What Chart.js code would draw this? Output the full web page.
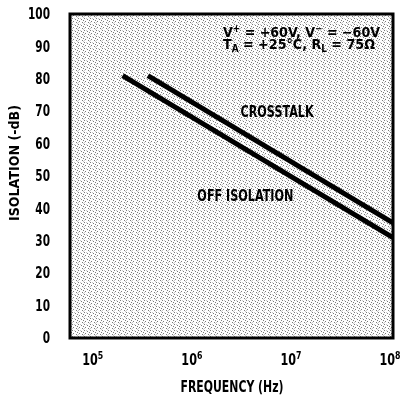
<!DOCTYPE html>
<html>
<head>
<meta charset="utf-8">
<script src="https://cdn.jsdelivr.net/npm/chart.js@4"></script>
<style>
  html, body { margin: 0; padding: 0; background: #fff; }
  #wrap { width: 403px; height: 400px; }
</style>
</head>
<body>
<div id="wrap"><canvas id="chart"></canvas></div>
<script>
// Isolation vs frequency data
const offFreq = [2.0e5, 1.07e8]
const offIso = [81, 31]
const xtalkFreq = [3.6e5, 1.07e8]
const xtalkIso = [81, 35.5]

// axis ticks
const xTickValues = [1e5, 1e6, 1e7, 1e8]
const xTickBase = ["10", "10", "10", "10"]
const xTickExp = ["5", "6", "7", "8"]
const yTicks = [0, 10, 20, 30, 40, 50, 60, 70, 80, 90, 100]

const FONT = "'DejaVu Sans', sans-serif"

// light halftone screen like the printed original
function makeScreen() {
  const c = document.createElement("canvas")
  c.width = 6
  c.height = 6
  const g = c.getContext("2d")
  g.fillStyle = "#fdfdfd"
  g.fillRect(0, 0, 6, 6)
  g.fillStyle = "#7a7a7a"
  ;[[0, 0], [3, 1], [1, 3], [4, 4], [5, 2]].forEach(([x, y]) => g.fillRect(x, y, 1, 1))
  g.fillStyle = "#c8c8c8"
  ;[[2, 0], [5, 5], [0, 4]].forEach(([x, y]) => g.fillRect(x, y, 1, 1))
  return c
}

function pieceSize(p, size) {
  return p.sub || p.sup ? size * 0.7 : size
}

// width of a rich text run
function richWidth(ctx, parts, size) {
  let w = 0
  parts.forEach((p) => {
    ctx.font = `bold ${pieceSize(p, size)}px ${FONT}`
    w += ctx.measureText(p.t).width
  })
  return w
}

// draw text made of normal / sub / sup pieces, squeezed to a condensed width
function drawRich(ctx, parts, x, y, size, align, target, sxFixed) {
  const w = richWidth(ctx, parts, size)
  const sx = sxFixed || (target ? target / w : 1)
  const start = align === "center" ? -w / 2 : align === "right" ? -w : 0
  ctx.save()
  ctx.translate(x, y)
  ctx.scale(sx, 1)
  ctx.textAlign = "left"
  ctx.textBaseline = "middle"
  ctx.fillStyle = "#000"
  let cx = start
  parts.forEach((p) => {
    ctx.font = `bold ${pieceSize(p, size)}px ${FONT}`
    const dy = p.sub ? size * 0.3 : p.sup ? -size * 0.28 : 0
    ctx.fillText(p.t, cx, dy)
    cx += ctx.measureText(p.t).width
  })
  ctx.restore()
}

const plotFrame = {
  id: "plotFrame",
  beforeDatasetsDraw(chart) {
    const { ctx, chartArea: a } = chart
    ctx.save()
    ctx.fillStyle = ctx.createPattern(makeScreen(), "repeat")
    ctx.fillRect(a.left, a.top, a.right - a.left, a.bottom - a.top)
    ctx.restore()
  },
  afterDraw(chart) {
    const { ctx, chartArea: a, scales } = chart
    ctx.save()
    ctx.strokeStyle = "#000"
    ctx.lineWidth = 3
    ctx.strokeRect(a.left, a.top, a.right - a.left, a.bottom - a.top)
    ctx.restore()

    // y tick labels, all squeezed like "100"
    const ySx = 22 / richWidth(ctx, [{ t: "100" }], 16)
    yTicks.forEach((v) => {
      drawRich(ctx, [{ t: String(v) }], 50, scales.y.getPixelForValue(v) + 1, 16, "right", 0, ySx)
    })

    // x tick labels with real superscripts
    xTickValues.forEach((v, i) => {
      drawRich(ctx, [{ t: xTickBase[i] }, { t: xTickExp[i], sup: true }], scales.x.getPixelForValue(v), 361, 16, "center", 21)
    })

    // axis titles
    drawRich(ctx, [{ t: "FREQUENCY (Hz)" }], 232, 388, 16, "center", 103)
    ctx.save()
    ctx.translate(15, 163)
    ctx.rotate(-Math.PI / 2)
    drawRich(ctx, [{ t: "ISOLATION (-dB)" }], 0, 0, 14, "center", 116)
    ctx.restore()

    // curve labels
    drawRich(ctx, [{ t: "CROSSTALK" }], scales.x.getPixelForValue(10 ** 6.86), scales.y.getPixelForValue(69.4), 15, "center", 73)
    drawRich(ctx, [{ t: "OFF ISOLATION" }], scales.x.getPixelForValue(10 ** 6.54), scales.y.getPixelForValue(43.5), 15, "center", 96)

    // test conditions
    drawRich(ctx, [{ t: "V" }, { t: "+", sup: true }, { t: " = +60V, V" }, { t: "\u2212", sup: true }, { t: " = \u221260V" }], 223, 33, 14, "left", 157)
    drawRich(ctx, [{ t: "T" }, { t: "A", sub: true }, { t: " = +25\u00b0C, R" }, { t: "L", sub: true }, { t: " = 75\u03a9" }], 223, 45, 14, "left", 152)
  },
}

const ctx = document.getElementById("chart").getContext("2d")
new Chart(ctx, {
  type: "line",
  data: {
    datasets: [
      {
        label: "Crosstalk",
        data: xtalkFreq.map((f, i) => ({ x: f, y: xtalkIso[i] })),
        borderColor: "#000",
        borderWidth: 5,
        borderCapStyle: "butt",
        pointRadius: 0,
        fill: false,
      },
      {
        label: "Off Isolation",
        data: offFreq.map((f, i) => ({ x: f, y: offIso[i] })),
        borderColor: "#000",
        borderWidth: 5,
        borderCapStyle: "butt",
        pointRadius: 0,
        fill: false,
      },
    ],
  },
  options: {
    responsive: true,
    maintainAspectRatio: false,
    animation: false,
    events: [],
    layout: { padding: { top: 14, right: 10, left: 0, bottom: 0 } },
    plugins: { legend: { display: false }, tooltip: { enabled: false } },
    scales: {
      x: {
        type: "logarithmic",
        min: 10 ** 4.77,
        max: 10 ** 8.03,
        afterBuildTicks: (scale) => {
          scale.ticks = xTickValues.map((v) => ({ value: v }))
        },
        afterFit: (scale) => {
          scale.height = 62
        },
        grid: { display: false, drawTicks: false },
        border: { display: false },
        ticks: { display: false },
      },
      y: {
        min: 0,
        max: 100,
        afterBuildTicks: (scale) => {
          scale.ticks = yTicks.map((v) => ({ value: v }))
        },
        afterFit: (scale) => {
          scale.width = 70
        },
        grid: { display: false, drawTicks: false },
        border: { display: false },
        ticks: { display: false },
      },
    },
  },
  plugins: [plotFrame],
})
</script>
</body>
</html>
